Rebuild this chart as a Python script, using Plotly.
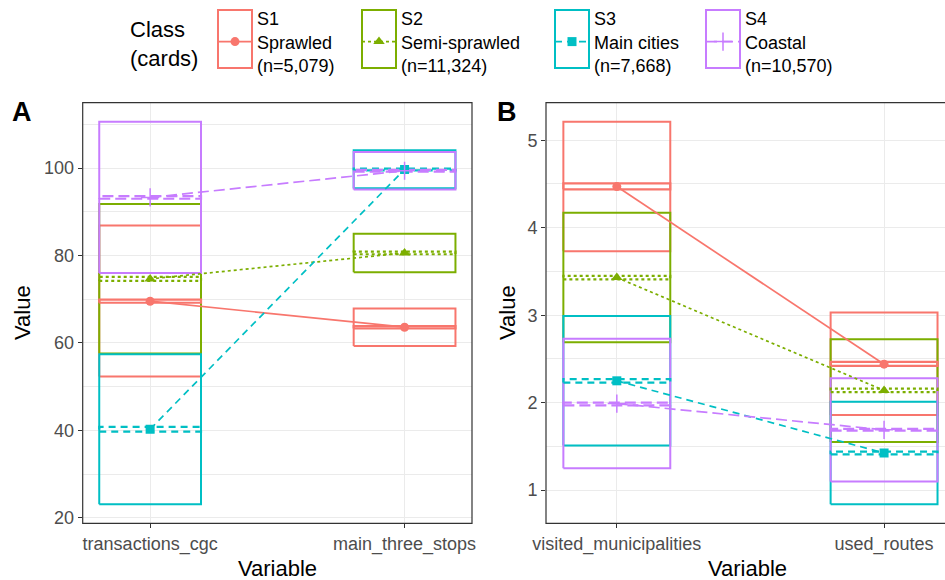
import plotly.graph_objects as go

# ---------------- data ----------------
classes = ["S1", "S2", "S3", "S4"]
class_labels = ["S1<br>Sprawled<br>(n=5,079)", "S2<br>Semi-sprawled<br>(n=11,324)",
                "S3<br>Main cities<br>(n=7,668)", "S4<br>Coastal<br>(n=10,570)"]
legend_title = "Class<br>(cards)"

vars_A = ["transactions_cgc", "main_three_stops"]
vars_B = ["visited_municipalities", "used_routes"]

# rows = classes S1..S4, columns = variables
A_mean = [[69.55, 63.6], [74.65, 80.6], [40.25, 99.7], [93.3, 99.4]]
A_box_lo = [[52.3, 59.3], [57.6, 76.2], [23.1, 95.4], [76.0, 95.1]]
A_box_hi = [[86.9, 67.9], [91.8, 85.0], [57.4, 104.1], [110.6, 103.7]]
A_ci_lo = [[69.2, 63.3], [74.2, 80.3], [39.7, 99.5], [93.0, 99.2]]
A_ci_hi = [[69.9, 63.85], [75.1, 80.9], [40.8, 99.9], [93.6, 99.6]]

B_mean = [[4.47, 2.44], [3.43, 2.14], [2.25, 1.425], [1.99, 1.69]]
B_box_lo = [[3.73, 1.86], [2.69, 1.55], [1.51, 0.84], [1.25, 1.10]]
B_box_hi = [[5.21, 3.03], [4.17, 2.725], [2.99, 2.01], [2.73, 2.28]]
B_ci_lo = [[4.438, 2.42], [3.41, 2.12], [2.23, 1.41], [1.97, 1.68]]
B_ci_hi = [[4.506, 2.466], [3.45, 2.16], [2.27, 1.44], [2.00, 1.70]]

# ---------------- styles ----------------
colors = ["#F8766D", "#7CAE00", "#00BFC4", "#C77CFF"]
dashes = ["solid", "3px,3px", "7px,5px", "11px,5px"]
symbols = ["circle", "triangle-up", "square", "cross-thin"]
msizes = [9, 10, 9, 13]
key_px = [214, 358, 551, 702]      # left edge of each legend key (px)
KEY_W = 34
FONT = "Liberation Sans, Arial, sans-serif"
HALF_W = 0.2
W, H = 945, 580

fig = go.Figure()


def rect_xy(cx, lo, hi):
    return ([cx - HALF_W, cx + HALF_W, cx + HALF_W, cx - HALF_W, cx - HALF_W],
            [lo, lo, hi, hi, lo])


def legend_name(k):
    return "legend" if k == 0 else "legend%d" % (k + 1)


def add_panel(xa, ya, means, blo, bhi, clo, chi, legend):
    pos = [1, 2]
    for k in range(4):
        for j in range(2):
            x, y = rect_xy(pos[j], blo[k][j], bhi[k][j])
            fig.add_trace(go.Scatter(x=x, y=y, mode="lines", xaxis=xa, yaxis=ya,
                                     line=dict(color=colors[k], width=2),
                                     showlegend=False, hoverinfo="skip"))
    for k in range(4):
        for j in range(2):
            x, y = rect_xy(pos[j], clo[k][j], chi[k][j])
            fig.add_trace(go.Scatter(x=x, y=y, mode="lines", xaxis=xa, yaxis=ya,
                                     line=dict(color=colors[k], width=2.2, dash=dashes[k]),
                                     showlegend=False, hoverinfo="skip"))
    for k in range(4):
        fig.add_trace(go.Scatter(
            x=pos, y=means[k], mode="lines+markers", xaxis=xa, yaxis=ya,
            name=class_labels[k], legendgroup=classes[k], showlegend=legend,
            legend=legend_name(k),
            line=dict(color=colors[k], width=1.7, dash=dashes[k]),
            marker=dict(symbol=symbols[k], size=msizes[k], color=colors[k],
                        line=dict(color=colors[k], width=1.5 if k == 3 else 0))))


add_panel("x", "y", A_mean, A_box_lo, A_box_hi, A_ci_lo, A_ci_hi, True)
add_panel("x2", "y2", B_mean, B_box_lo, B_box_hi, B_ci_lo, B_ci_hi, False)


def yrange(lo, hi):
    mn = min(min(r) for r in lo)
    mx = max(max(r) for r in hi)
    pad = 0.05 * (mx - mn)
    return [mn - pad, mx + pad]


ydom = [1 - 523.3 / H, 1 - 102.7 / H]
tickfont = dict(size=18, color="#4D4D4D", family=FONT)
common_x = dict(tickvals=[1, 2], showgrid=True, gridcolor="#EBEBEB", gridwidth=1.4,
                zeroline=False, ticks="outside", ticklen=4, tickcolor="#333333",
                tickfont=tickfont, showline=False, automargin=False)
common_y = dict(showgrid=True, gridcolor="#EBEBEB", gridwidth=1.4, zeroline=False,
                ticks="outside", ticklen=4, tickcolor="#333333",
                tickfont=tickfont, showline=False, domain=ydom, automargin=False)

legends = {}
for k in range(4):
    legends[legend_name(k)] = dict(
        orientation="v", x=(key_px[k] - 1) / W, xanchor="left", y=1.0, yanchor="top",
        bgcolor="rgba(0,0,0,0)", itemwidth=KEY_W,
        font=dict(size=18, color="black", family=FONT))

fig.update_layout(
    width=W, height=H,
    margin=dict(l=0, r=0, t=0, b=0, autoexpand=False),
    paper_bgcolor="white", plot_bgcolor="white",
    font=dict(family=FONT, color="black"),
    xaxis=dict(common_x, domain=[82.7 / W, 472 / W], range=[0.735, 2.265],
               ticktext=vars_A, anchor="y"),
    yaxis=dict(common_y, range=yrange(A_box_lo, A_box_hi), tick0=20, dtick=20,
               minor=dict(dtick=10, showgrid=True, gridcolor="#EBEBEB", gridwidth=0.8),
               anchor="x"),
    xaxis2=dict(common_x, domain=[546 / W, 1.0], range=[0.735, 2.228],
                ticktext=vars_B, anchor="y2"),
    yaxis2=dict(common_y, range=yrange(B_box_lo, B_box_hi), tick0=1, dtick=1,
                minor=dict(dtick=0.5, showgrid=True, gridcolor="#EBEBEB", gridwidth=0.8),
                anchor="x2"),
    showlegend=True,
    **legends,
)

# panel borders
fig.add_shape(type="rect", xref="x domain", yref="y domain", x0=0, x1=1, y0=0, y1=1,
              line=dict(color="#333333", width=1.2), layer="above")
fig.add_shape(type="rect", xref="x2 domain", yref="y2 domain", x0=0, x1=1.05, y0=0, y1=1,
              line=dict(color="#333333", width=1.2), layer="above")

# legend key boxes (crossbar-style keys)
for k in range(4):
    fig.add_shape(type="rect", xref="paper", yref="paper",
                  x0=(key_px[k] + 4) / W, x1=(key_px[k] + 4 + KEY_W) / W,
                  y0=1 - 68 / H, y1=1 - 10 / H,
                  line=dict(color=colors[k], width=2), layer="above")

# titles / panel tags
ann = [
    dict(text=legend_title, x=128 / W, y=1 - 44 / H, size=22, xanchor="left"),
    dict(text="<b>A</b>", x=22 / W, y=1 - 112 / H, size=27),
    dict(text="<b>B</b>", x=507 / W, y=1 - 112 / H, size=27),
    dict(text="Value", x=22 / W, y=1 - 313 / H, textangle=-90, size=22),
    dict(text="Value", x=507 / W, y=1 - 313 / H, textangle=-90, size=22),
    dict(text="Variable", x=277 / W, y=1 - 568 / H, size=22),
    dict(text="Variable", x=747 / W, y=1 - 568 / H, size=22),
]
for a in ann:
    fig.add_annotation(xref="paper", yref="paper", showarrow=False,
                       xanchor=a.get("xanchor", "center"), yanchor="middle",
                       align="left", x=a["x"], y=a["y"], text=a["text"],
                       textangle=a.get("textangle", 0),
                       font=dict(family=FONT, color="black", size=a["size"]))

fig.write_html("out.html")
